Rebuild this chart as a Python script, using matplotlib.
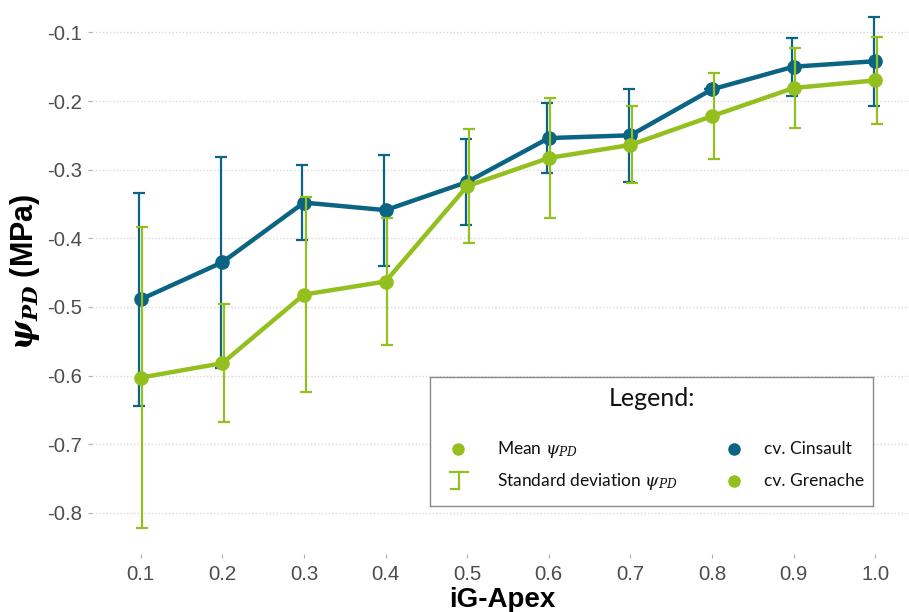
import matplotlib
matplotlib.use("Agg")
import matplotlib.pyplot as plt
import numpy as np

plt.rcParams["mathtext.fontset"] = "custom"
plt.rcParams["mathtext.rm"] = "DejaVu Serif"
plt.rcParams["mathtext.it"] = "DejaVu Serif:italic"
plt.rcParams["mathtext.bf"] = "DejaVu Serif:italic:bold"

# ---- data ----
ig_apex = [0.1, 0.2, 0.3, 0.4, 0.5, 0.6, 0.7, 0.8, 0.9, 1.0]
cinsault_mean = [-0.489, -0.435, -0.348, -0.359, -0.318, -0.254, -0.250, -0.183, -0.150, -0.142]
cinsault_sd = [0.155, 0.154, 0.055, 0.081, 0.062, 0.051, 0.068, 0.0, 0.042, 0.065]
grenache_mean = [-0.603, -0.582, -0.482, -0.463, -0.324, -0.283, -0.264, -0.222, -0.181, -0.170]
grenache_sd = [0.219, 0.086, 0.142, 0.092, 0.083, 0.087, 0.056, 0.063, 0.058, 0.063]
x_ticks = [0.1, 0.2, 0.3, 0.4, 0.5, 0.6, 0.7, 0.8, 0.9, 1.0]
y_ticks = [-0.8, -0.7, -0.6, -0.5, -0.4, -0.3, -0.2, -0.1]

BLUE = "#0b6483"
GREEN = "#93c01f"

W, H = 909, 612
fig = plt.figure(figsize=(W / 100, H / 100), dpi=100)

# axes in pixel coordinates (panel extends past figure edge as in reference crop)
left_px, right_px, top_px, bottom_px = 92, 912, -9.5, 554
ax = fig.add_axes([left_px / W, (H - bottom_px) / H,
                   (right_px - left_px) / W, (bottom_px - top_px) / H])

x = np.array(ig_apex)
dodge = 0.002

# Cinsault
ax.errorbar(x - dodge, cinsault_mean, yerr=cinsault_sd, fmt="none",
            ecolor=BLUE, elinewidth=1.6, capsize=4, capthick=1.6, zorder=2)
ax.plot(x, cinsault_mean, color=BLUE, lw=3.2, marker="o", ms=9.5,
        solid_capstyle="round", zorder=3)
# Grenache
ax.errorbar(x + dodge, grenache_mean, yerr=grenache_sd, fmt="none",
            ecolor=GREEN, elinewidth=1.6, capsize=4, capthick=1.6, zorder=4)
ax.plot(x, grenache_mean, color=GREEN, lw=3.2, marker="o", ms=9.5,
        solid_capstyle="round", zorder=5)

ax.set_xlim(0.0403, 1.045)
ax.set_ylim(-0.86, -0.039)
ax.set_xticks(x_ticks)
ax.set_xticklabels([f"{t:.1f}" for t in x_ticks])
ax.set_yticks(y_ticks)
ax.set_yticklabels([f"{t:.1f}" for t in y_ticks])

for s in ax.spines.values():
    s.set_visible(False)
ax.grid(axis="y", linestyle=(0, (1, 1.5)), color="#d9d9d9", lw=1.0)
ax.set_axisbelow(True)
ax.tick_params(axis="both", length=3, width=0.8, color="#b0b0b0",
               labelcolor="#4d4d4d", labelsize=14.7)
ax.tick_params(axis="y", pad=4)
ax.tick_params(axis="x", pad=5)
for lab in ax.get_xticklabels() + ax.get_yticklabels():
    lab.set_family("Liberation Sans")

ax.set_xlabel("iG-Apex", fontsize=20, fontweight="bold",
              family="Liberation Sans", labelpad=2)
ax.set_ylabel(r"$\mathbf{\psi_{PD}}$ (MPa)", fontsize=22, fontweight="bold",
              family="Liberation Sans", labelpad=4)

# ---- manual legend box ----
lx0, lx1, ly0, ly1 = 430, 873, 377, 506
lax = fig.add_axes([lx0 / W, (H - ly1) / H, (lx1 - lx0) / W, (ly1 - ly0) / H])
lax.set_xlim(lx0, lx1)
lax.set_ylim(ly1, ly0)
lax.set_xticks([])
lax.set_yticks([])
for s in lax.spines.values():
    s.set_color("#8a8a8a")
    s.set_linewidth(1.0)
lax.set_facecolor("white")

lfont = "Lato"
lax.text(652, 399, "Legend:", ha="center", va="center", fontsize=18,
         family=lfont, color="#111111")
lax.plot([458], [449], "o", color=GREEN, ms=8)
lax.text(497, 449, r"Mean $\psi_{PD}$", ha="left", va="center", fontsize=12.5,
         family=lfont, color="#111111")
# error bar icon
lax.plot([450, 468], [472, 472], color=GREEN, lw=1.6)
lax.plot([459, 459], [472, 489], color=GREEN, lw=1.6)
lax.plot([451, 459], [489, 489], color=GREEN, lw=1.6)
lax.text(497, 482, r"Standard deviation $\psi_{PD}$", ha="left", va="center",
         fontsize=12.5, family=lfont, color="#111111")
lax.plot([734], [449], "o", color=BLUE, ms=8)
lax.text(764, 449, "cv. Cinsault", ha="left", va="center", fontsize=12.5,
         family=lfont, color="#111111")
lax.plot([734], [481], "o", color=GREEN, ms=8)
lax.text(764, 481, "cv. Grenache", ha="left", va="center", fontsize=12.5,
         family=lfont, color="#111111")

fig.savefig("out.png", dpi=100)
